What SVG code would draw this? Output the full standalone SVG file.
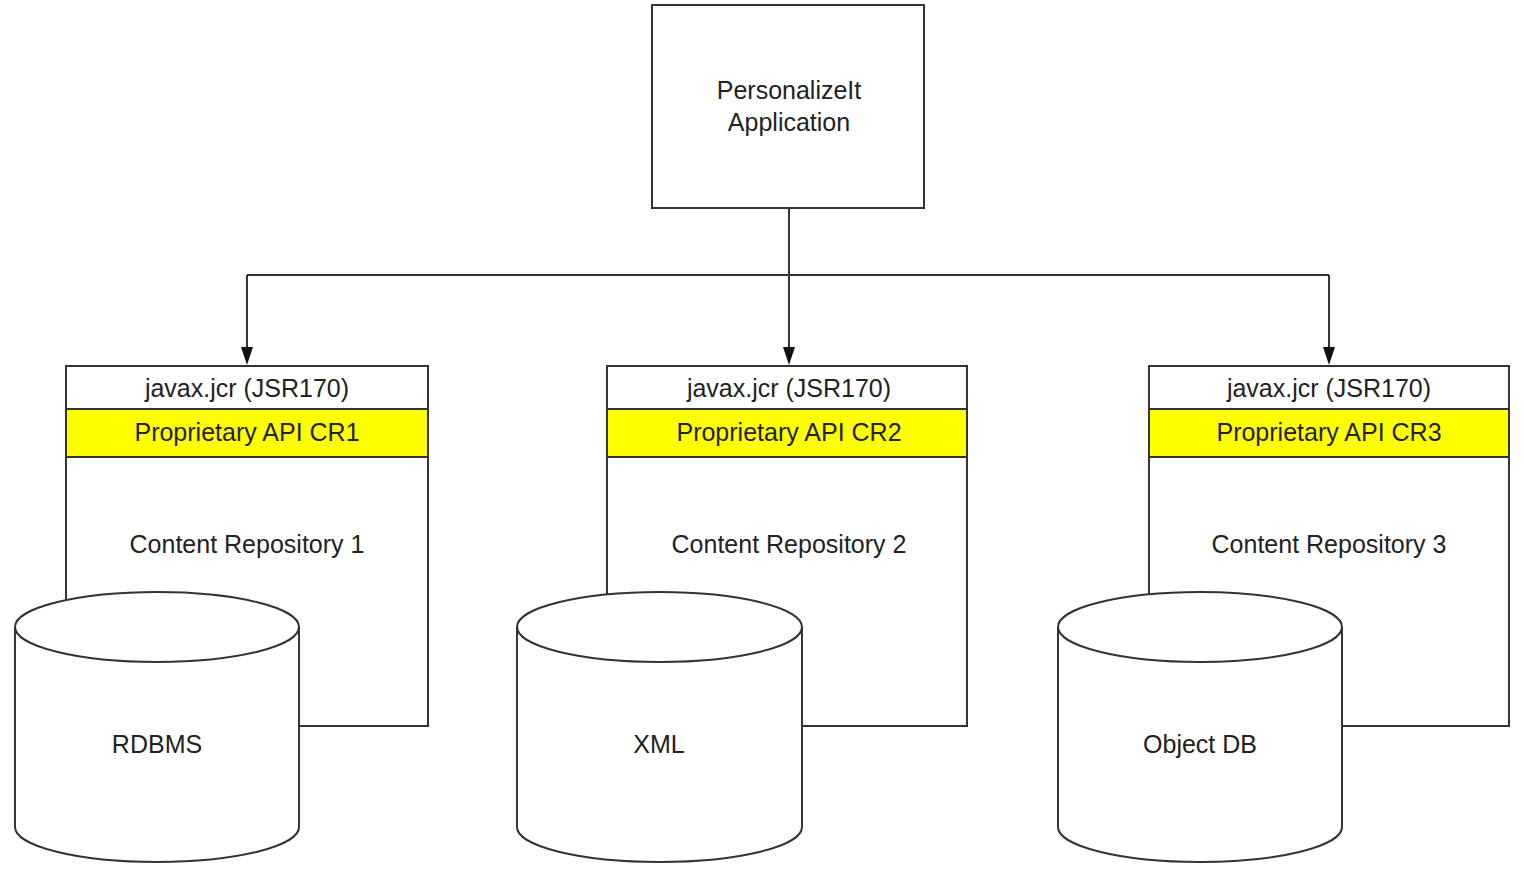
<svg xmlns="http://www.w3.org/2000/svg" width="1524" height="872" viewBox="0 0 1524 872">
<defs>
<style>
.ln{fill:none;stroke:#333;stroke-width:2}
.box{fill:#fff;stroke:#333;stroke-width:2}
.yel{fill:#ffff00;stroke:none}
.cyl{fill:#fff;stroke:#333;stroke-width:2}
text{font-family:"Liberation Sans",Arial,sans-serif;font-size:25px;fill:#222;text-anchor:middle}
</style>
<marker id="arr" markerWidth="14" markerHeight="18" refX="7" refY="18" orient="auto-start-reverse" markerUnits="userSpaceOnUse" viewBox="0 0 14 18">
<path d="M1,0 L13,0 L7,18 Z" fill="#111" transform="rotate(0)"/>
</marker>
</defs>
<rect width="1524" height="872" fill="#fff"/>
<g id="app">
<rect class="box" x="652" y="5" width="272" height="203"/>
<text x="789" y="99">PersonalizeIt</text>
<text x="789" y="131">Application</text>
</g>
<g id="connectors">
<path class="ln" d="M789,208 L789,275"/>
<path class="ln" d="M247,275 L1329,275"/>
<path class="ln" d="M247,275 L247,347"/>
<path class="ln" d="M789,275 L789,347"/>
<path class="ln" d="M1329,275 L1329,347"/>
<path d="M241,347 L253,347 L247,365 Z" fill="#111"/>
<path d="M783,347 L795,347 L789,365 Z" fill="#111"/>
<path d="M1323,347 L1335,347 L1329,365 Z" fill="#111"/>
</g>
<g id="cr1">
<rect class="box" x="66" y="366" width="362" height="360"/>
<rect class="yel" x="67" y="410" width="360" height="46"/>
<path class="ln" d="M66,409 L428,409 M66,457 L428,457"/>
<text x="247" y="397">javax.jcr (JSR170)</text>
<text x="247" y="441">Proprietary API CR1</text>
<text x="247" y="553">Content Repository 1</text>
</g>
<g id="cr2">
<rect class="box" x="607" y="366" width="360" height="360"/>
<rect class="yel" x="608" y="410" width="358" height="46"/>
<path class="ln" d="M607,409 L967,409 M607,457 L967,457"/>
<text x="789" y="397">javax.jcr (JSR170)</text>
<text x="789" y="441">Proprietary API CR2</text>
<text x="789" y="553">Content Repository 2</text>
</g>
<g id="cr3">
<rect class="box" x="1149" y="366" width="360" height="360"/>
<rect class="yel" x="1150" y="410" width="358" height="46"/>
<path class="ln" d="M1149,409 L1509,409 M1149,457 L1509,457"/>
<text x="1329" y="397">javax.jcr (JSR170)</text>
<text x="1329" y="441">Proprietary API CR3</text>
<text x="1329" y="553">Content Repository 3</text>
</g>
<g id="rdbms">
<path class="cyl" d="M15,627 A142,35 0 0 1 299,627 L299,827 A142,35 0 0 1 15,827 Z"/>
<path class="ln" d="M15,627 A142,35 0 0 0 299,627"/>
<text x="157" y="753">RDBMS</text>
</g>
<g id="xml">
<path class="cyl" d="M517,627 A142.5,35 0 0 1 802,627 L802,827 A142.5,35 0 0 1 517,827 Z"/>
<path class="ln" d="M517,627 A142.5,35 0 0 0 802,627"/>
<text x="659" y="753">XML</text>
</g>
<g id="objectdb">
<path class="cyl" d="M1058,627 A142,35 0 0 1 1342,627 L1342,827 A142,35 0 0 1 1058,827 Z"/>
<path class="ln" d="M1058,627 A142,35 0 0 0 1342,627"/>
<text x="1200" y="753">Object DB</text>
</g>
</svg>
